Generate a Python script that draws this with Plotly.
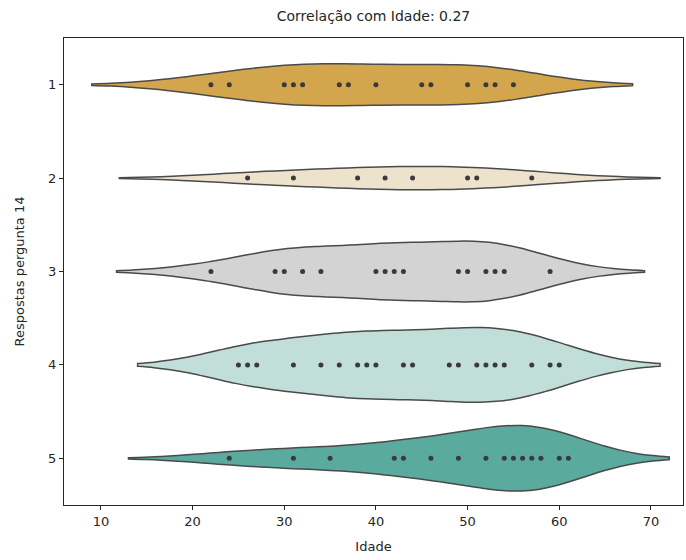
import numpy as np
import plotly.graph_objects as go

# ---- data ----
categories = ["1", "2", "3", "4", "5"]
idade_1 = [22, 24, 30, 31, 32, 36, 37, 40, 45, 46, 50, 52, 53, 55]
idade_2 = [26, 31, 38, 41, 44, 50, 51, 57]
idade_3 = [22, 29, 30, 32, 34, 40, 41, 42, 43, 49, 50, 52, 53, 54, 59]
idade_4 = [25, 26, 27, 31, 34, 36, 38, 39, 40, 43, 44, 48, 49, 51, 52, 53, 54, 57, 59, 60]
idade_5 = [24, 31, 35, 42, 43, 46, 49, 52, 54, 55, 56, 57, 58, 60, 61]
series = [idade_1, idade_2, idade_3, idade_4, idade_5]
x_ticks = [10, 20, 30, 40, 50, 60, 70]
title_text = "Correlação com Idade: 0.27"

# ---- styles ----
fill_colors = ["#d3a64d", "#ede3cc", "#d3d3d3", "#c1ded8", "#5aaa9d"]
violin_widths = [0.45, 0.25, 0.65, 0.80, 0.70]
bandwidths = [6.5, 7.0, 5.15, 5.5, 5.5]
gray = "#4a4a4a"
font_family = "DejaVu Sans, sans-serif"

fig = go.Figure()
for cat, vals, col, w, bw in zip(categories, series, fill_colors, violin_widths, bandwidths):
    fig.add_trace(go.Violin(
        x=vals,
        y0=cat,
        name=cat,
        orientation="h",
        side="both",
        bandwidth=bw,
        spanmode="soft",
        scalemode="width",
        width=w,
        fillcolor=col,
        opacity=1,
        line=dict(color=gray, width=1.5),
        points="all",
        pointpos=0,
        jitter=0,
        marker=dict(color="#3a3a3a", size=5, line=dict(width=0)),
        box_visible=False,
        meanline_visible=False,
        showlegend=False,
        hoverinfo="skip",
    ))

fig.update_layout(
    width=686,
    height=560,
    margin=dict(l=64, r=3, t=38, b=55, autoexpand=False),
    paper_bgcolor="white",
    plot_bgcolor="white",
    violinmode="overlay",
    font=dict(family=font_family, size=13, color="#262626"),
    title=dict(text=title_text, x=0.5, xref="paper", xanchor="center",
               y=1, yref="container", yanchor="top", pad=dict(t=11),
               font=dict(size=14, color="#262626"), automargin=False),
)

fig.update_xaxes(
    range=[5.97, 73.5],
    tickvals=x_ticks,
    ticks="outside", ticklen=4, tickcolor="#262626",
    showgrid=False, zeroline=False, automargin=False,
    showline=True, linecolor="#262626", linewidth=1, mirror=True,
    title=dict(text="Idade", standoff=14, font=dict(size=13)),
)
fig.update_yaxes(
    type="category",
    categoryorder="array", categoryarray=categories,
    range=[4.5, -0.5],
    ticks="outside", ticklen=4, tickcolor="#262626",
    showgrid=False, zeroline=False, automargin=False,
    showline=True, linecolor="#262626", linewidth=1, mirror=True,
    title=dict(text="Respostas pergunta 14", standoff=20, font=dict(size=13)),
)

fig.write_html(
    "out.html",
    config={"displayModeBar": False},
    post_script="document.body.style.margin='0';document.body.style.overflow='hidden';",
)
